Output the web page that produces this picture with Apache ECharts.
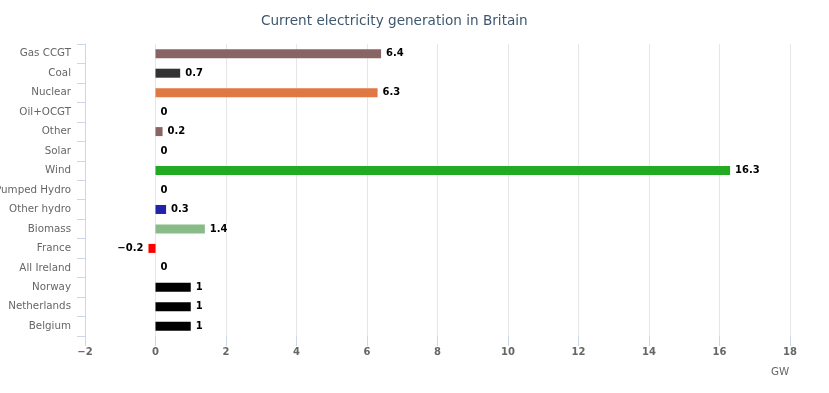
<!DOCTYPE html>
<html>
<head>
<meta charset="utf-8">
<script src="https://cdn.jsdelivr.net/npm/echarts@6/dist/echarts.min.js"></script>
<style>html,body{margin:0;padding:0;background:#fff}#c{width:829px;height:393px}</style>
</head>
<body>
<div id="c"></div>
<script>
const categories = ['Gas CCGT','Coal','Nuclear','Oil+OCGT','Other','Solar','Wind','Pumped Hydro','Other hydro','Biomass','France','All Ireland','Norway','Netherlands','Belgium'];
const values = [6.4, 0.7, 6.3, 0, 0.2, 0, 16.3, 0, 0.3, 1.4, -0.2, 0, 1, 1, 1];
const barColors = ['#886464','#333333','#df7842','#999999','#886464','#ffdd00','#22aa22','#4488cc','#2222aa','#88bb88','#ff0000','#666666','#000000','#000000','#000000'];
const xTicks = {min: -2, max: 18, interval: 2};
const titleText = 'Current electricity generation in Britain';
const unitText = 'GW';

const fmt = v => String(v).replace('-', '\u2212');
const font = 'DejaVu Sans, Verdana, sans-serif';

const chart = echarts.init(document.getElementById('c'), null, {renderer: 'canvas'});
chart.setOption({
  animation: false,
  backgroundColor: '#ffffff',
  title: {
    text: titleText, left: 256, top: 9,
    textStyle: {fontFamily: font, fontSize: 13.6, fontWeight: 'normal', color: '#3e576f'}
  },
  graphic: [{
    type: 'text', left: 771, top: 367,
    style: {text: unitText, fontFamily: font, fontSize: 10.3, fill: '#666666'}
  }],
  grid: {left: 85, right: 39, top: 44, bottom: 57, containLabel: false, outerBoundsMode: 'none'},
  xAxis: {
    type: 'value', min: xTicks.min, max: xTicks.max, interval: xTicks.interval,
    axisLine: {show: false},
    axisTick: {show: true, length: 10, lineStyle: {color: '#ccd6eb'}},
    splitLine: {show: true, lineStyle: {color: '#e6e6e6', width: 1}},
    axisLabel: {formatter: fmt, fontFamily: font, fontSize: 10, fontWeight: 'bold', color: '#666666', margin: 11}
  },
  yAxis: {
    type: 'category', data: categories, inverse: true,
    axisLine: {show: true, onZero: false, lineStyle: {color: '#ccd6eb'}},
    axisTick: {show: true, length: 8, lineStyle: {color: '#ccd6eb'}},
    splitLine: {show: false},
    axisLabel: {fontFamily: font, fontSize: 10.3, color: '#666666', margin: 14}
  },
  series: [{
    type: 'bar',
    barWidth: 9,
    data: values.map((v, i) => ({
      value: v,
      itemStyle: {color: barColors[i]},
      label: {position: v < 0 ? 'left' : 'right'}
    })),
    label: {
      show: true, distance: 5,
      formatter: p => fmt(p.value),
      fontFamily: font, fontSize: 10, fontWeight: 'bold', color: '#000000',
      textBorderColor: '#ffffff', textBorderWidth: 1
    }
  }]
});
</script>
</body>
</html>
